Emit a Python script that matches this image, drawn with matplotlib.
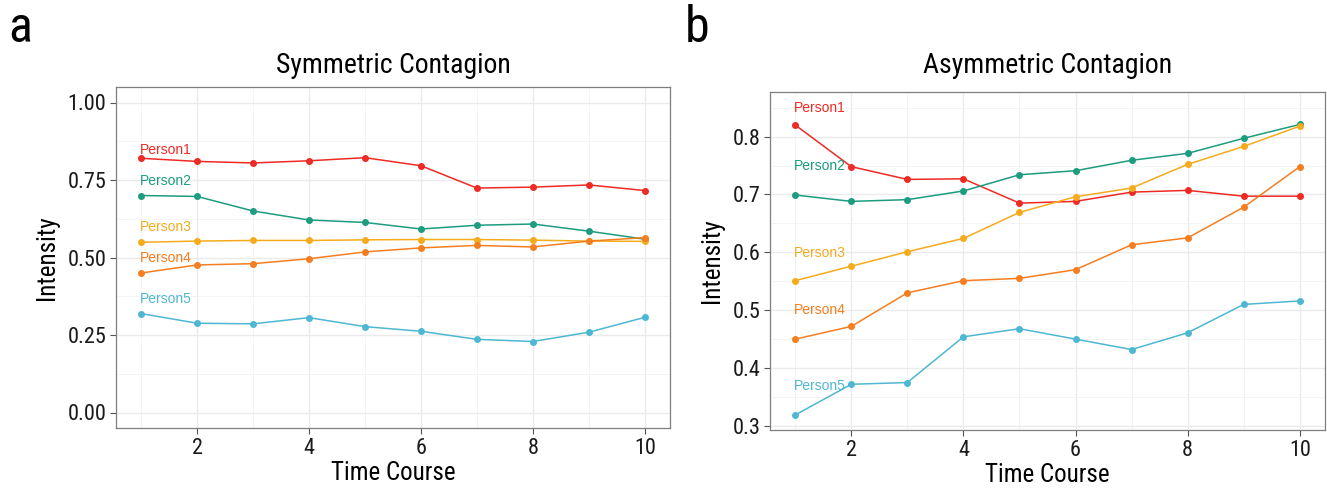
import matplotlib.pyplot as plt
from matplotlib.ticker import MultipleLocator

# data
time = [1, 2, 3, 4, 5, 6, 7, 8, 9, 10]
names = ["Person1", "Person2", "Person3", "Person4", "Person5"]
colors = ["#EE2A24", "#1D9C80", "#F6AB1D", "#F47E20", "#4EB7D3"]

sym_p1 = [0.820, 0.810, 0.805, 0.812, 0.822, 0.796, 0.724, 0.727, 0.734, 0.716]
sym_p2 = [0.700, 0.697, 0.650, 0.621, 0.613, 0.592, 0.604, 0.608, 0.585, 0.559]
sym_p3 = [0.549, 0.553, 0.555, 0.555, 0.557, 0.558, 0.558, 0.556, 0.553, 0.552]
sym_p4 = [0.450, 0.476, 0.480, 0.496, 0.518, 0.531, 0.539, 0.534, 0.553, 0.564]
sym_p5 = [0.319, 0.288, 0.286, 0.306, 0.277, 0.262, 0.236, 0.229, 0.259, 0.307]
sym_label_y = [0.846, 0.748, 0.598, 0.498, 0.366]

asym_p1 = [0.820, 0.748, 0.726, 0.727, 0.685, 0.688, 0.704, 0.707, 0.697, 0.697]
asym_p2 = [0.699, 0.688, 0.691, 0.706, 0.734, 0.741, 0.759, 0.771, 0.797, 0.821]
asym_p3 = [0.551, 0.576, 0.601, 0.624, 0.669, 0.696, 0.711, 0.752, 0.783, 0.818]
asym_p4 = [0.450, 0.472, 0.530, 0.551, 0.555, 0.570, 0.613, 0.625, 0.678, 0.748]
asym_p5 = [0.319, 0.372, 0.375, 0.454, 0.468, 0.450, 0.432, 0.461, 0.510, 0.516]
asym_label_y = [0.850, 0.749, 0.598, 0.500, 0.369]

plt.rcParams['font.family'] = ['Roboto Condensed', 'Liberation Sans Narrow',
                               'Liberation Sans', 'DejaVu Sans']

W, H = 1327, 495
fig = plt.figure(figsize=(W / 100, H / 100), dpi=100)


def px_axes(left, top, right, bottom):
    return fig.add_axes([left / W, 1 - bottom / H, (right - left) / W, (bottom - top) / H])


def draw_panel(ax, series, label_y, title, ylim, major, minor, fmt, title_pad):
    for vals, name, c, ly in zip(series, names, colors, label_y):
        ax.plot(time, vals, color=c, lw=1.1, marker='o', ms=4, zorder=3)
        ax.text(0.98, ly, name, color=c, fontsize=10, ha='left', va='center',
                family=['Liberation Sans', 'DejaVu Sans'])
    ax.set_xlim(0.55, 10.45)
    ax.set_ylim(*ylim)
    ax.xaxis.set_major_locator(MultipleLocator(2))
    ax.xaxis.set_minor_locator(MultipleLocator(1))
    ax.yaxis.set_major_locator(MultipleLocator(major))
    ax.yaxis.set_minor_locator(MultipleLocator(minor))
    ax.yaxis.set_major_formatter(plt.FormatStrFormatter(fmt))
    ax.grid(True, which='major', color='#EBEBEB', lw=1.0)
    ax.grid(True, which='minor', color='#F2F2F2', lw=0.6)
    ax.set_axisbelow(True)
    for s in ax.spines.values():
        s.set_color('#7F7F7F')
        s.set_linewidth(0.9)
    ax.tick_params(which='major', length=4, color='#555555', labelsize=16,
                   labelcolor='#1A1A1A', pad=3)
    ax.tick_params(which='minor', length=0)
    ax.set_title(title, fontsize=20, pad=title_pad)
    ax.set_xlabel("Time Course", fontsize=18, labelpad=2)
    ax.set_ylabel("Intensity", fontsize=18, labelpad=6)


ax1 = px_axes(116, 87, 670, 428)
draw_panel(ax1, [sym_p1, sym_p2, sym_p3, sym_p4, sym_p5], sym_label_y,
           "Symmetric Contagion", (-0.05, 1.05), 0.25, 0.125, '%.2f', 10)

ax2 = px_axes(770, 92, 1325, 430)
draw_panel(ax2, [asym_p1, asym_p2, asym_p3, asym_p4, asym_p5], asym_label_y,
           "Asymmetric Contagion", (0.293, 0.877), 0.1, 0.05, '%.1f', 14)

fig.text(8 / W, 1 - 28 / H, "a", fontsize=36, va='center', ha='left')
fig.text(685 / W, 1 - 28 / H, "b", fontsize=36, va='center', ha='left')

fig.savefig("out.png", dpi=100)
